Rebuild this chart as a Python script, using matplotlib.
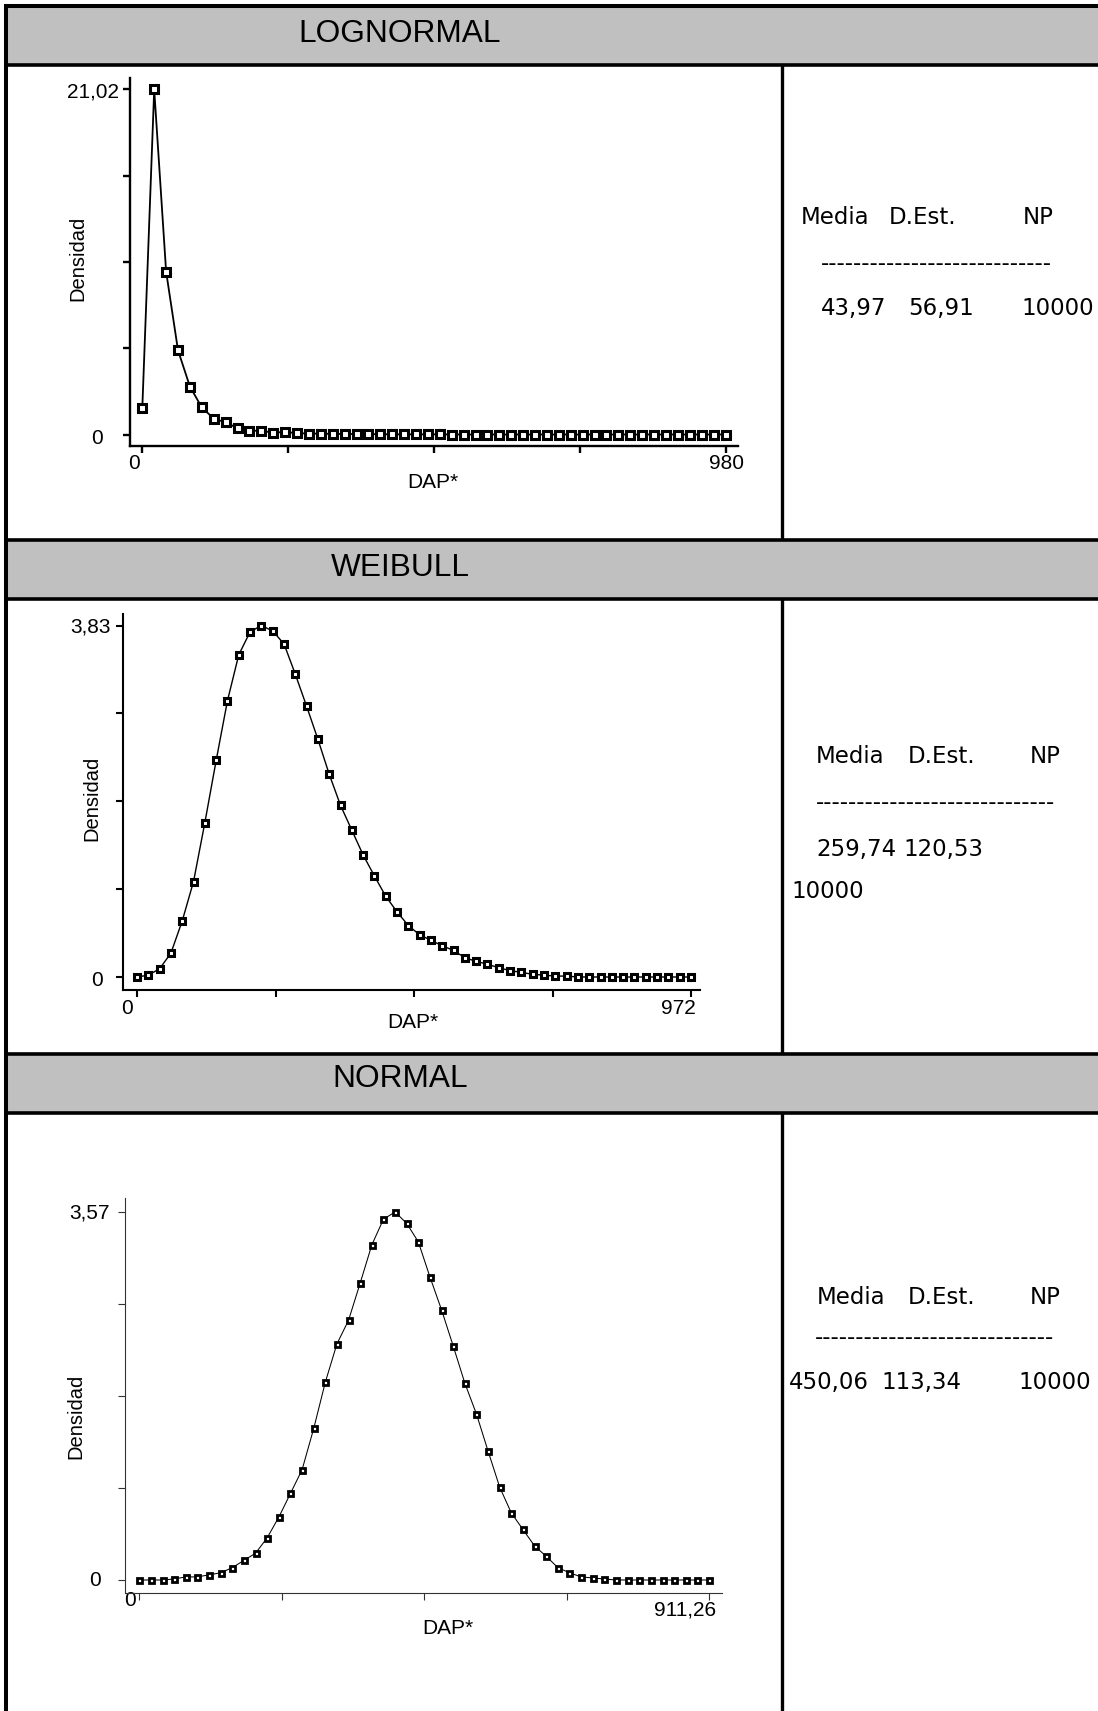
import matplotlib.pyplot as plt
from matplotlib.patches import Rectangle

# %% data (50 class marks per curve)
logn_x = [0, 20, 40, 60, 80, 100, 120, 140, 160, 180, 200, 220, 240, 260, 280, 300, 320,
          340, 360, 380, 400, 420, 440, 460, 480, 500, 520, 540, 560, 580, 600, 620, 640,
          660, 680, 700, 720, 740, 760, 780, 800, 820, 840, 860, 880, 900, 920, 940, 960,
          980]
logn_y = [1.60, 21.02, 9.93, 5.13, 2.92, 1.65, 0.97, 0.74, 0.39, 0.24, 0.22, 0.12, 0.15,
          0.08, 0.06, 0.05, 0.04, 0.03, 0.03, 0.02, 0.02, 0.01, 0.01, 0.01, 0.01, 0.01,
          0, 0, 0, 0, 0, 0, 0, 0, 0, 0, 0, 0, 0, 0, 0, 0, 0, 0, 0, 0, 0, 0, 0, 0]

weib_x = [0, 19.8, 39.7, 59.5, 79.3, 99.2, 119.0, 138.9, 158.7, 178.5, 198.4, 218.2, 238.0,
          257.9, 277.7, 297.6, 317.4, 337.2, 357.1, 376.9, 396.7, 416.6, 436.4, 456.2,
          476.1, 495.9, 515.8, 535.6, 555.4, 575.3, 595.1, 614.9, 634.8, 654.6, 674.4,
          694.3, 714.1, 734.0, 753.8, 773.6, 793.5, 813.3, 833.1, 853.0, 872.8, 892.7,
          912.5, 932.3, 952.2, 972]
weib_y = [0.00, 0.02, 0.09, 0.26, 0.61, 1.04, 1.68, 2.36, 3.01, 3.51, 3.76, 3.83, 3.77,
          3.63, 3.30, 2.95, 2.59, 2.21, 1.87, 1.60, 1.33, 1.10, 0.88, 0.71, 0.56, 0.46,
          0.40, 0.34, 0.29, 0.21, 0.17, 0.14, 0.10, 0.07, 0.05, 0.03, 0.02, 0.01, 0.01,
          0, 0, 0, 0, 0, 0, 0, 0, 0, 0, 0]

norm_x = [0, 18.6, 37.2, 55.8, 74.4, 93.0, 111.6, 130.2, 148.8, 167.4, 186.0, 204.6, 223.2,
          241.8, 260.4, 279.0, 297.6, 316.1, 334.7, 353.3, 371.9, 390.5, 409.1, 427.7,
          446.3, 464.9, 483.5, 502.1, 520.7, 539.3, 557.9, 576.5, 595.1, 613.7, 632.3,
          650.9, 669.5, 688.1, 706.7, 725.3, 743.9, 762.5, 781.1, 799.7, 818.3, 836.9,
          855.5, 874.1, 892.7, 911.26]
norm_y = [0.00, 0.00, 0.00, 0.01, 0.03, 0.03, 0.05, 0.07, 0.12, 0.19, 0.26, 0.41, 0.61,
          0.84, 1.07, 1.47, 1.92, 2.29, 2.52, 2.88, 3.25, 3.50, 3.57, 3.46, 3.28, 2.94,
          2.62, 2.27, 1.91, 1.61, 1.25, 0.90, 0.65, 0.49, 0.33, 0.23, 0.12, 0.07, 0.03,
          0.02, 0.01, 0, 0, 0, 0, 0, 0, 0, 0, 0]

titles = ['LOGNORMAL', 'WEIBULL', 'NORMAL']
x_max_labels = ['980', '972', '911,26']
y_max_labels = ['21,02', '3,83', '3,57']
stat_heads = ['Media', 'D.Est.', 'NP']
stat_vals = [['43,97', '56,91', '10000'],
             ['259,74', '120,53', '10000'],
             ['450,06', '113,34', '10000']]

# %% page
W, H = 1098, 1711
FONT = 'Liberation Sans'
STATFONT = 'DejaVu Sans'

fig = plt.figure(figsize=(W / 100, H / 100), dpi=100)
bg = fig.add_axes([0, 0, 1, 1])
bg.set_xlim(0, W)
bg.set_ylim(H, 0)
bg.axis('off')

bands = [(6, 65), (540.3, 599.2), (1053.5, 1112.5)]
title_base = [42, 576.5, 1087]
for (top, bot), title, yb in zip(bands, titles, title_base):
    bg.add_patch(Rectangle((6, top), W - 6, bot - top, facecolor='#c0c0c0', edgecolor='none'))
    bg.plot([4, W], [top, top], color='k', lw=2.6 if top > 10 else 2.9, solid_capstyle='butt')
    bg.plot([4, W], [bot, bot], color='k', lw=2.6, solid_capstyle='butt')
    bg.text(400, yb, title, ha='center', va='baseline', fontsize=22.8, family=FONT)

# left border and divider
bg.plot([6, 6], [4, H], color='k', lw=2.9, solid_capstyle='butt')
for y0, y1 in [(65, 540.3), (599.2, 1053.5), (1112.5, H)]:
    bg.plot([782.3, 782.3], [y0, y1], color='k', lw=2.4, solid_capstyle='butt')


def make_axes(L, R, T, B, px0, px1, py0, py1, xr, yr):
    # place an axes so that data xr/yr land on the given pixel positions
    sx = (xr[1] - xr[0]) / (px1 - px0)
    sy = (yr[1] - yr[0]) / (py0 - py1)
    ax = fig.add_axes([L / W, 1 - B / H, (R - L) / W, (B - T) / H])
    ax.set_xlim(xr[0] - (px0 - L) * sx, xr[1] + (R - px1) * sx)
    ax.set_ylim(yr[0] - (B - py0) * sy, yr[1] + (py1 - T) * sy)
    ax.patch.set_visible(False)
    for s in ['top', 'right']:
        ax.spines[s].set_visible(False)
    return ax


panels = [
    dict(box=(129.5, 738, 78.5, 445.5), px=(142.3, 725.5), py=(434.5, 89.5),
         x=logn_x, y=logn_y, lw=1.3, ms=6, mew=2.2, spw=1.7, spc='k'),
    dict(box=(123, 700, 613.5, 990.5), px=(137, 691), py=(977, 625.5),
         x=weib_x, y=weib_y, lw=1.0, ms=4.2, mew=2.2, spw=1.5, spc='k'),
    dict(box=(125, 722, 1198, 1593), px=(139.3, 709), py=(1580, 1212),
         x=norm_x, y=norm_y, lw=0.75, ms=3.6, mew=2.0, spw=0.8, spc='#333333'),
]

for p in panels:
    xmax = p['x'][-1]
    ymax = max(p['y'])
    ax = make_axes(*p['box'], *p['px'], *p['py'], (0, xmax), (0, ymax))
    ax.plot(p['x'], p['y'], color='k', lw=p['lw'], marker='s', ms=p['ms'],
            mfc='white', mec='k', mew=p['mew'], clip_on=False)
    ax.set_xticks([xmax * k / 4 for k in range(5)])
    ax.set_yticks([ymax * k / 4 for k in range(5)])
    ax.tick_params(direction='out', length=5, width=p['spw'], color=p['spc'],
                   labelbottom=False, labelleft=False)
    for s in ['left', 'bottom']:
        ax.spines[s].set_linewidth(p['spw'])
        ax.spines[s].set_color(p['spc'])

# axis texts (pixel positions)
tick_font = dict(fontsize=15, family=FONT)
lab_font = dict(fontsize=14.5, family=FONT, rotation=90, ha='center', va='center')
# lognormal
bg.text(118.5, 92, y_max_labels[0], ha='right', va='center', **tick_font)
bg.text(97, 438, '0', ha='center', va='center', **tick_font)
bg.text(134, 463, '0', ha='center', va='center', **tick_font)
bg.text(726, 463, x_max_labels[0], ha='center', va='center', **tick_font)
bg.text(433, 482, 'DAP*', ha='center', va='center', **tick_font)
bg.text(78, 258, 'Densidad', **lab_font)
# weibull
bg.text(110.5, 627, y_max_labels[1], ha='right', va='center', **tick_font)
bg.text(96.5, 980, '0', ha='center', va='center', **tick_font)
bg.text(126.5, 1008, '0', ha='center', va='center', **tick_font)
bg.text(678, 1008, x_max_labels[1], ha='center', va='center', **tick_font)
bg.text(413, 1023, 'DAP*', ha='center', va='center', **tick_font)
bg.text(91.5, 798, 'Densidad', **lab_font)
# normal
bg.text(110, 1213, y_max_labels[2], ha='right', va='center', **tick_font)
bg.text(95, 1580, '0', ha='center', va='center', **tick_font)
bg.text(130, 1601, '0', ha='center', va='center', **tick_font)
bg.text(684.6, 1610, x_max_labels[2], ha='center', va='center', **tick_font)
bg.text(448, 1628, 'DAP*', ha='center', va='center', **tick_font)
bg.text(76, 1416, 'Densidad', **lab_font)

# statistics boxes
stat_font = dict(fontsize=16.5, family=STATFONT, va='baseline', ha='left')
head_pos = [((801, 889, 1023), 223.5), ((816, 908, 1030), 762.5), ((817, 908, 1030), 1303.5)]
dash_pos = [(821, 270, 28), (816, 809, 29), (815, 1344, 29)]
val_pos = [[(821, 315), (908, 315), (1021, 315)],
           [(816, 856), (903, 856), (791, 898)],
           [(789, 1389), (881, 1389), (1018, 1389)]]

for k in range(3):
    xs, yb = head_pos[k]
    for txt, xx in zip(stat_heads, xs):
        bg.text(xx, yb, txt, **stat_font)
    dx, dy, n = dash_pos[k]
    bg.text(dx, dy, '-' * n, **stat_font)
    for txt, (xx, yy) in zip(stat_vals[k], val_pos[k]):
        bg.text(xx, yy, txt, **stat_font)

fig.savefig('out.png', dpi=100)
